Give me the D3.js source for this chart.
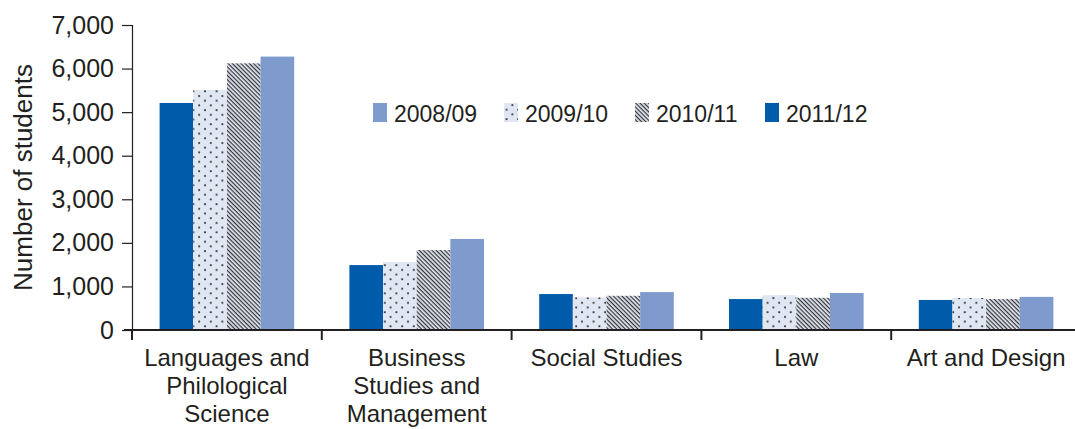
<!DOCTYPE html>
<html>
<head>
<meta charset="utf-8">
<title>Students by field</title>
<script src="https://cdn.jsdelivr.net/npm/d3@7"></script>
<style>
  body { margin: 0; background: #fff; }
  svg text { font-family: "Liberation Sans", Arial, sans-serif; fill: #231f20; }
</style>
</head>
<body>
<div id="chart"></div>
<script>
// categories (lines of each label)
var categories = [
  ["Languages and", "Philological", "Science"],
  ["Business", "Studies and", "Management"],
  ["Social Studies"],
  ["Law"],
  ["Art and Design"]
];
// series values, in the order the bars stand in each group
var v2011 = [5210, 1490, 825, 710, 690];
var v2009 = [5510, 1560, 750, 800, 735];
var v2010 = [6120, 1835, 785, 740, 710];
var v2008 = [6275, 2090, 870, 850, 760];
var yTicks = [0, 1000, 2000, 3000, 4000, 5000, 6000, 7000];
var legendOrder = ["2008/09", "2009/10", "2010/11", "2011/12"];

var series = [
  {name: "2011/12", values: v2011, fill: "#005baa"},
  {name: "2009/10", values: v2009, fill: "url(#dots)"},
  {name: "2010/11", values: v2010, fill: "url(#hatch)"},
  {name: "2008/09", values: v2008, fill: "#7f9acc"}
];

var W = 1075, H = 429;
var m = {left: 132, top: 25, right: -6, bottom: 99};

var svg = d3.select("#chart").append("svg").attr("width", W).attr("height", H);

// patterns
var defs = svg.append("defs");
var dots = defs.append("pattern").attr("id", "dots").attr("patternUnits", "userSpaceOnUse")
  .attr("width", 11.6).attr("height", 9.4);
dots.append("rect").attr("width", 11.6).attr("height", 9.4).attr("fill", "#e1e6f3");
dots.append("circle").attr("cx", 2).attr("cy", 2).attr("r", 0.95).attr("fill", "#2b2b2b");
dots.append("circle").attr("cx", 7.8).attr("cy", 6.7).attr("r", 0.95).attr("fill", "#2b2b2b");

var hatch = defs.append("pattern").attr("id", "hatch").attr("patternUnits", "userSpaceOnUse")
  .attr("width", 3).attr("height", 3).attr("patternTransform", "rotate(45)");
hatch.append("rect").attr("width", 3).attr("height", 3).attr("fill", "#e1e6f3");
hatch.append("line").attr("x1", 0).attr("y1", 0.6).attr("x2", 3).attr("y2", 0.6)
  .attr("stroke", "#333").attr("stroke-width", 1.2);

var x = d3.scaleBand().domain(d3.range(categories.length))
  .range([m.left, W - m.right]).paddingInner(0).paddingOuter(0);
var x1 = d3.scaleBand().domain(d3.range(series.length))
  .range([0, x.bandwidth()]).paddingOuter(0.82).paddingInner(0);
var y = d3.scaleLinear().domain([0, 7000]).range([H - m.bottom, m.top]);

// bars
series.forEach(function(s, si){
  svg.append("g").selectAll("rect").data(s.values).enter().append("rect")
    .attr("x", function(d, i){ return x(i) + x1(si); })
    .attr("y", function(d){ return y(d); })
    .attr("width", x1.bandwidth())
    .attr("height", function(d){ return y(0) - y(d); })
    .attr("fill", s.fill);
});

// y axis
var yAxis = svg.append("g").attr("transform", "translate(" + m.left + ",0)")
  .call(d3.axisLeft(y).tickValues(yTicks).tickSize(10).tickPadding(8)
    .tickFormat(d3.format(",")));
yAxis.select(".domain").attr("stroke", "#231f20").attr("stroke-width", 1.2);
yAxis.selectAll(".tick line").attr("stroke", "#231f20").attr("stroke-width", 1.2);
yAxis.selectAll("text").style("font-size", "25px").attr("fill", "#231f20");

// x axis
var xAxis = svg.append("g").attr("transform", "translate(0," + y(0) + ")");
xAxis.append("line").attr("x1", m.left - 8).attr("x2", W).attr("y1", 0).attr("y2", 0)
  .attr("stroke", "#231f20").attr("stroke-width", 2);
xAxis.selectAll(".xt").data(d3.range(categories.length + 1)).enter().append("line")
  .attr("x1", function(i){ return m.left + i * x.bandwidth(); })
  .attr("x2", function(i){ return m.left + i * x.bandwidth(); })
  .attr("y1", 0).attr("y2", 10).attr("stroke", "#231f20").attr("stroke-width", 2);
categories.forEach(function(lines, i){
  var t = xAxis.append("text").attr("text-anchor", "middle").style("font-size", "24px")
    .attr("transform", "translate(" + (x(i) + x.bandwidth() / 2) + ",36)");
  lines.forEach(function(l, k){
    t.append("tspan").attr("x", 0).attr("y", k * 28).text(l);
  });
});

// y title
svg.append("text").attr("text-anchor", "middle").style("font-size", "26px")
  .attr("transform", "translate(32," + ((m.top + y(0)) / 2) + ") rotate(-90)")
  .text("Number of students");

// legend
var fillOf = {};
series.forEach(function(s){ fillOf[s.name] = s.fill; });
var legendX = [373, 504, 635, 765];
var lg = svg.append("g").attr("transform", "translate(0,103)");
legendOrder.forEach(function(name, i){
  lg.append("rect").attr("x", legendX[i]).attr("y", 0).attr("width", 14).attr("height", 19)
    .attr("fill", fillOf[name]);
  lg.append("text").attr("x", legendX[i] + 21).attr("y", 19).style("font-size", "23px").text(name);
});
</script>
</body>
</html>
